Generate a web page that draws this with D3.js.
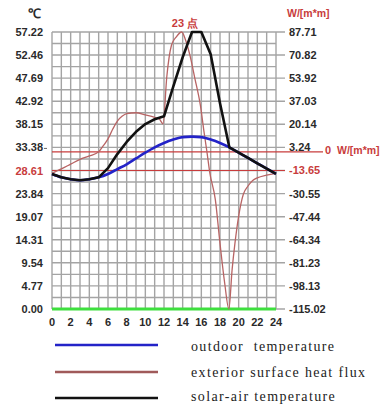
<!DOCTYPE html>
<html><head><meta charset="utf-8">
<script src="https://cdn.jsdelivr.net/npm/d3@7"></script>
<style>
html,body{margin:0;padding:0;background:#fff;}
svg text{font-family:"Liberation Sans",Arial,sans-serif;}
</style></head>
<body>
<svg id="c" width="384" height="407"></svg>
<script>
// ---- data ----
const hours = [0,1,2,3,4,5,6,7,8,9,10,11,12,13,14,15,16,17,18,19,20,21,22,23,24];
const xTickLabels = [0,2,4,6,8,10,12,14,16,18,20,22,24];
const leftTicks = [57.22,52.46,47.69,42.92,38.15,33.38,28.61,23.84,19.07,14.31,9.54,4.77,0.00];
const rightTicks = [87.71,70.82,53.92,37.03,20.14,3.24,-13.65,-30.55,-47.44,-64.34,-81.23,-98.13,-115.02];
const outdoorTemp = [27.9,27.2,26.8,26.6,26.8,27.2,27.9,28.9,29.9,31.1,32.3,33.4,34.3,35.0,35.5,35.6,35.5,35.0,34.3,33.4,32.3,31.2,30.1,29.0,27.9];
const solarAirTemp = [27.9,27.2,26.8,26.6,26.8,27.2,29.1,32.0,34.5,36.6,38.2,39.2,39.8,46.0,52.0,57.22,57.22,52.6,42.5,33.4,32.3,31.2,30.1,29.0,27.9];
const fluxHours = [0,1,2,3,4,5,5.5,6,6.5,7,7.5,8,9,10,11,11.5,11.9,12.3,12.8,13.3,13.9,14.3,14.8,15.3,15.9,16.3,16.6,16.9,17.5,18,18.5,18.95,19.3,19.6,20,20.5,21,21.5,22,23,24];
const fluxValues = [-15.7,-12.5,-9.0,-5.5,-3.0,0.0,4.5,9.5,16.5,22.5,26.0,28.0,28.6,27.0,25.2,24.0,20.5,55,78,84,87.71,82,70,54,34,14,0,-15,-35,-67,-96,-115.02,-86,-67,-47,-31,-25,-21,-19,-17,-15.7];
const seriesNames = ["outdoor  temperature","exterior surface heat flux","solar-air temperature"];
const redLeftTick = 28.61, redRightTick = -13.65, zeroFlux = 0;

// ---- layout ----
const svg = d3.select("#c");
const x = d3.scaleLinear().domain([0,24]).range([52,276]);
const yL = d3.scaleLinear().domain([0,57.22]).range([309,32]);
const yR = d3.scaleLinear().domain([-115.02,87.71]).range([309,32]);

// grid: vertical every hour
svg.append("g").selectAll("line").data(hours).join("line")
  .attr("x1",d=>x(d)).attr("x2",d=>x(d)).attr("y1",yL(57.22)).attr("y2",yL(0))
  .attr("stroke","#a4a4a4").attr("stroke-width",1.4);
// horizontal: ticks + half ticks
const halfTicks = [];
for (let i=0;i<leftTicks.length-1;i++) halfTicks.push((leftTicks[i]+leftTicks[i+1])/2);
svg.append("g").selectAll("line").data(halfTicks).join("line")
  .attr("x1",x(0)).attr("x2",x(24)).attr("y1",d=>yL(d)).attr("y2",d=>yL(d))
  .attr("stroke","#a4a4a4").attr("stroke-width",1.4);
svg.append("g").selectAll("line").data(leftTicks).join("line")
  .attr("x1",x(0)).attr("x2",x(24)+9).attr("y1",d=>yL(d)).attr("y2",d=>yL(d))
  .attr("stroke","#a4a4a4").attr("stroke-width",1.4);

// red reference lines
svg.append("line").attr("x1",x(0)).attr("x2",x(24)+9)
  .attr("y1",yL(redLeftTick)).attr("y2",yL(redLeftTick)).attr("stroke","#c83c3c").attr("stroke-width",1.2);
svg.append("line").attr("x1",x(0)).attr("x2",323)
  .attr("y1",yR(zeroFlux)).attr("y2",yR(zeroFlux)).attr("stroke","#c83c3c").attr("stroke-width",1.2);

// green baseline
svg.append("line").attr("x1",x(0)).attr("x2",x(24)).attr("y1",yL(0)).attr("y2",yL(0))
  .attr("stroke","#3ee03e").attr("stroke-width",3);

// curves
const fluxData = fluxHours.map((h,i)=>[h,fluxValues[i]]);
svg.append("path").datum(fluxData)
  .attr("d",d3.line().x(d=>x(d[0])).y(d=>yR(d[1])).curve(d3.curveMonotoneX))
  .attr("fill","none").attr("stroke","#b86464").attr("stroke-width",1.3);
svg.append("path").datum(hours.map((h,i)=>[h,outdoorTemp[i]]))
  .attr("d",d3.line().x(d=>x(d[0])).y(d=>yL(d[1])).curve(d3.curveMonotoneX))
  .attr("fill","none").attr("stroke","#2323c8").attr("stroke-width",2.6);
svg.append("path").datum(hours.map((h,i)=>[h,solarAirTemp[i]]))
  .attr("d",d3.line().x(d=>x(d[0])).y(d=>yL(d[1])))
  .attr("fill","none").attr("stroke","#111").attr("stroke-width",2.6).attr("stroke-linejoin","round");

// axis labels
svg.append("g").selectAll("text").data(leftTicks).join("text")
  .attr("x",43).attr("y",d=>yL(d)+4).attr("text-anchor","end")
  .attr("font-size",11).attr("font-weight","bold")
  .attr("fill",d=>d===redLeftTick?"#c83c3c":"#2a2a2a")
  .text(d=>d.toFixed(2));
svg.append("line").attr("x1",44).attr("x2",47).attr("y1",yL(33.38)+1).attr("y2",yL(33.38)+1).attr("stroke","#666").attr("stroke-width",1);
svg.append("g").selectAll("text").data(rightTicks).join("text")
  .attr("x",289).attr("y",d=>yR(d)+4).attr("text-anchor","start")
  .attr("font-size",11).attr("font-weight","bold")
  .attr("fill",d=>d===redRightTick?"#c83c3c":"#2a2a2a")
  .text(d=>d.toFixed(2));
svg.append("text").attr("x",325).attr("y",yR(zeroFlux)+2).attr("font-size",11).attr("font-weight","bold")
  .attr("fill","#c83c3c").text("0");
svg.append("text").attr("x",337).attr("y",yR(zeroFlux)+2).attr("font-size",10.5).attr("font-weight","bold")
  .attr("fill","#c83c3c").text("W/[m*m]");
svg.append("g").selectAll("text").data(xTickLabels).join("text")
  .attr("x",d=>x(d)).attr("y",326).attr("text-anchor","middle")
  .attr("font-size",11).attr("font-weight","bold").attr("fill","#2a2a2a")
  .text(d=>d);
svg.append("text").attr("x",34).attr("y",18).attr("text-anchor","middle")
  .attr("font-size",13).attr("font-weight","bold").attr("fill","#2a2a2a").text("℃");
svg.append("text").attr("x",287).attr("y",17).attr("font-size",10.5).attr("font-weight","bold")
  .attr("fill","#c83c3c").text("W/[m*m]");
svg.append("text").attr("x",185).attr("y",27).attr("text-anchor","middle")
  .attr("font-size",11).attr("font-weight","bold").attr("fill","#c83c3c").text("23 点");

// legend
const legColors = ["#2323c8","#a05a5a","#111"];
const legY = [345,372,398];
const legText = [351,377,401];
const lg = svg.append("g");
seriesNames.forEach((n,i)=>{
  lg.append("line").attr("x1",55).attr("x2",158).attr("y1",legY[i]).attr("y2",legY[i])
    .attr("stroke",legColors[i]).attr("stroke-width",2.5);
  lg.append("text").attr("x",191).attr("y",legText[i])
    .style("font-family","'Liberation Serif','Times New Roman',serif")
    .style("white-space","pre")
    .attr("font-size",14).attr("letter-spacing",1.35).attr("fill","#222").text(n);
});
</script>
</body></html>
